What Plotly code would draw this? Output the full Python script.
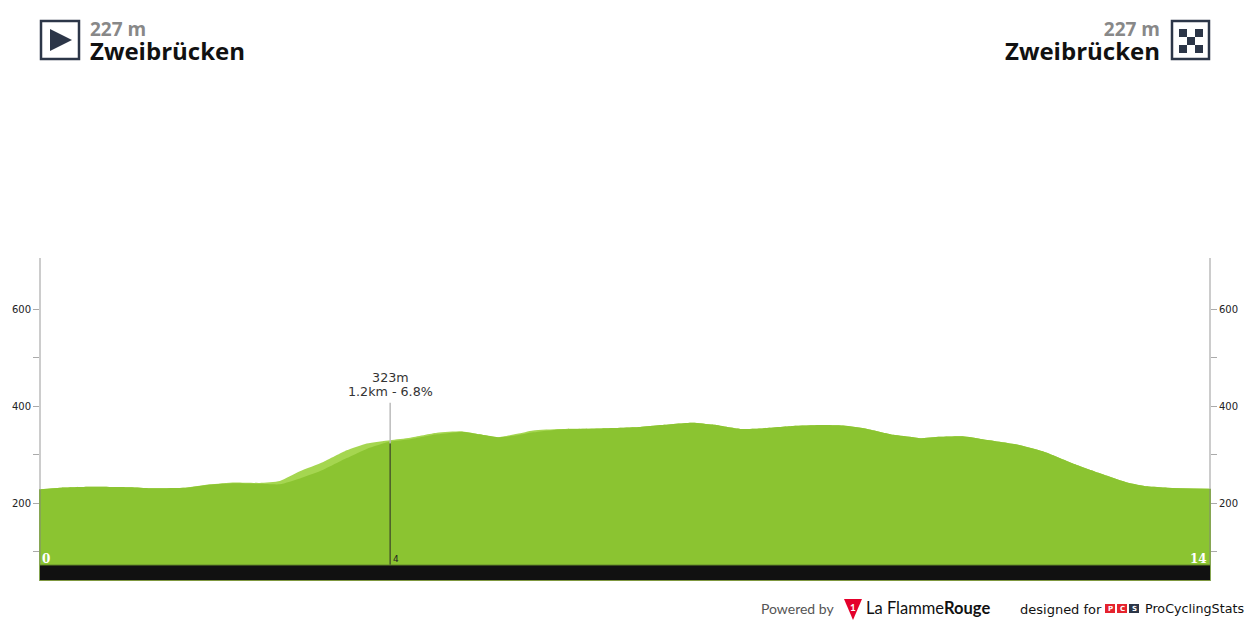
import plotly.graph_objects as go

W, H = 1250, 625

# Stage profile: km and metres
km = [0, 0.24, 0.6, 1.08, 1.32, 1.74, 2.03, 2.33, 2.63, 2.87, 3.11, 3.39, 3.67, 3.91, 4.19,
      4.43, 4.75, 5.06, 5.26, 5.48, 5.71, 5.9, 6.22, 6.7, 7.18, 7.42, 7.81, 8.05, 8.38, 8.62,
      9.01, 9.33, 9.61, 9.9, 10.21, 10.45, 10.53, 10.77, 11.04, 11.28, 11.69, 12.0, 12.36,
      12.68, 13.01, 13.25, 13.49, 14]
elev_light = [229, 232, 234, 233, 231, 232, 239, 243, 242, 246, 266, 285, 309, 323, 330,
              335, 345, 348, 342, 336, 343, 350, 353, 354, 357, 361, 366, 362, 353, 354,
              359, 361, 360, 353, 341, 336, 334, 337, 338, 332, 321, 307, 282,
              262, 243, 235, 232, 230]
elev_main = [229, 232, 234, 233, 231, 232, 238, 241, 240, 239, 251, 269, 293, 312, 327,
             332, 342, 347, 342, 336, 340, 346, 352, 354, 357, 361, 366, 362, 353, 354,
             359, 361, 360, 353, 341, 336, 334, 337, 338, 332, 321, 307, 282,
             262, 243, 235, 232, 230]

climb_km = 4.19
climb_top = 323
climb_label_top = 407
climb_height = "323m"
climb_detail = "1.2km - 6.8%"

y_ticks = [100, 200, 300, 400, 500, 600]
y_tick_text = ["", "200", "", "400", "", "600"]
y_range = [40, 705]
road_top = 73

start_name = "Zweibrücken"
finish_name = "Zweibrücken"
start_alt = "227 m"
finish_alt = "227 m"

NAVY = "#2c3648"
LIGHT_GREEN = "#a5d650"
GREEN = "#8bc431"
EDGE = "#86a652"


def px(x):
    return x / W


def py(y):
    return 1 - y / H


def label(x, y, text, size, color, family, anchor="left", bold=False):
    if bold:
        text = f"<b>{text}</b>"
    fig.add_annotation(x=px(x), y=py(y), xref="paper", yref="paper", text=text, showarrow=False,
                       xanchor=anchor, yanchor="middle", align=anchor, borderpad=0,
                       font=dict(size=size, color=color, family=family))


def box(x0, y0, x1, y1, fill="rgba(0,0,0,0)", line=None, width=0):
    fig.add_shape(type="rect", xref="paper", yref="paper", x0=px(x0), x1=px(x1), y0=py(y0), y1=py(y1),
                  fillcolor=fill, line=dict(color=line, width=width) if line else dict(width=0))


def poly(points, fill):
    path = "M " + " L ".join(f"{px(a)},{py(b)}" for a, b in points) + " Z"
    fig.add_shape(type="path", xref="paper", yref="paper", path=path, fillcolor=fill, line=dict(width=0))


def header(x, anchor, alt, name):
    # both lines in one text so the line spacing stays tight
    text = (f"<b><span style='color:#888888;font-size:19px'>{alt}</span><br>"
            f"<span style='font-size:24px'>{name}</span></b>")
    label(x, 41.5, text, 18.5, "#111111", "Open Sans", anchor=anchor)


def side_axis(x, top):
    # x in paper so the line is not clipped by the plot area
    fig.add_shape(type="line", xref="paper", yref="y", x0=px(x), x1=px(x), y0=y_range[0], y1=y_range[1],
                  line=dict(color="#cccccc", width=2), layer="above")
    fig.add_shape(type="line", xref="paper", yref="y", x0=px(x), x1=px(x), y0=y_range[0], y1=top,
                  line=dict(color=EDGE, width=2), layer="above")


fig = go.Figure()

fig.add_trace(go.Scatter(x=km, y=elev_light, mode="lines", fill="tozeroy", fillcolor=LIGHT_GREEN,
                         line=dict(width=0, color=LIGHT_GREEN, shape="spline", smoothing=0.5),
                         hoverinfo="skip"))
fig.add_trace(go.Scatter(x=km, y=elev_main, mode="lines", fill="tozeroy", fillcolor=GREEN,
                         line=dict(width=0, color=GREEN, shape="spline", smoothing=0.5),
                         hoverinfo="skip"))

# Climb marker
fig.add_trace(go.Scatter(x=[climb_km, climb_km], y=[climb_top, climb_label_top], mode="lines",
                         line=dict(color="#bbbbbb", width=1.5), hoverinfo="skip"))
fig.add_trace(go.Scatter(x=[climb_km, climb_km], y=[y_range[0], climb_top], mode="lines",
                         line=dict(color="#4a5a2a", width=1.5), hoverinfo="skip"))
# Right axis needs a trace to show up
fig.add_trace(go.Scatter(x=[0], y=[y_range[0]], mode="none", yaxis="y2", hoverinfo="skip"))

side_axis(40, elev_main[0])
side_axis(1210, elev_main[-1])

# Black road strip along the bottom
fig.add_shape(type="rect", xref="x", yref="y", x0=0, x1=14, y0=y_range[0], y1=road_top,
              fillcolor="#111111", line=dict(width=0), layer="above")
fig.add_shape(type="line", xref="x", yref="y", x0=0, x1=14, y0=road_top, y1=road_top,
              line=dict(color="#668f2a", width=1), layer="above")
fig.add_shape(type="line", xref="x", yref="y", x0=0, x1=14, y0=y_range[0], y1=y_range[0],
              line=dict(color="#a5c450", width=1.5), layer="above")

fig.update_layout(
    width=W, height=H,
    margin=dict(l=0, r=0, t=0, b=0),
    paper_bgcolor="white", plot_bgcolor="white",
    showlegend=False,
    font=dict(family="DejaVu Sans", color="#222222"),
    xaxis=dict(domain=[px(40), px(1210)], range=[0, 14], showgrid=False, zeroline=False,
               showticklabels=False, ticks=""),
    yaxis=dict(domain=[py(581), py(258)], range=y_range, tickvals=y_ticks, ticktext=y_tick_text,
               showgrid=False, zeroline=False, showline=False,
               ticks="outside", ticklen=6, tickcolor="#aaaaaa", tickwidth=1,
               tickfont=dict(size=10, color="#222222", family="DejaVu Sans")),
    yaxis2=dict(domain=[py(581), py(258)], range=y_range, overlaying="y", side="right", anchor="x",
                tickvals=y_ticks, ticktext=y_tick_text,
                showgrid=False, zeroline=False, showline=False,
                ticks="outside", ticklen=6, tickcolor="#aaaaaa", tickwidth=1,
                tickfont=dict(size=10, color="#222222", family="DejaVu Sans")),
)

# Climb label and km labels inside the profile
fig.add_annotation(x=climb_km, y=climb_label_top, xref="x", yref="y",
                   text=f"<span style='font-size:12.7px'>{climb_height}<br>{climb_detail}</span>",
                   showarrow=False, yanchor="bottom", yshift=2,
                   font=dict(size=10.8, color="#333333", family="DejaVu Sans"))
label(392, 559, "4", 9, "#222222", "DejaVu Sans")
label(41, 559, "0", 12, "white", "DejaVu Serif", bold=True)
label(1208, 559, "14", 12, "white", "DejaVu Serif", anchor="right", bold=True)

# Start header
box(41, 21, 79, 59, fill="white", line=NAVY, width=2.5)
poly([(50, 29), (72, 40), (50, 51)], NAVY)
header(89, "left", start_alt, start_name)

# Finish header
box(1172, 21, 1209, 59, fill="white", line=NAVY, width=2.5)
for col in range(3):
    for row in range(3):
        if (col + row) % 2 == 0:
            box(1179 + col * 8, 29 + row * 8, 1187 + col * 8, 37 + row * 8, fill=NAVY)
header(1161, "right", finish_alt, finish_name)

# Footer logos
label(760, 608, "Powered by", 14, "#555555", "Lato")
poly([(844, 599), (862, 599), (853, 620)], "#e4002b")
label(853, 607, "1", 10, "white", "Lato", anchor="center", bold=True)
label(865, 608, "La Flamme<b>Rouge</b>", 16.5, "#111111", "Lato")
label(1019, 609, "designed for", 13, "#111111", "DejaVu Sans")
box(1105, 604, 1115, 613, fill="#e5232e")
box(1117, 604, 1127, 613, fill="#e5232e")
box(1129, 604, 1139, 613, fill=NAVY)
label(1110, 608.5, "P", 7, "white", "DejaVu Sans", anchor="center", bold=True)
label(1122, 608.5, "C", 7, "white", "DejaVu Sans", anchor="center", bold=True)
label(1134, 608.5, "S", 7, "white", "DejaVu Sans", anchor="center", bold=True)
label(1144, 608, "ProCyclingStats", 12.7, "#111111", "DejaVu Sans")

fig.write_html("out.html", config={"displayModeBar": False},
               post_script="document.body.style.margin='0';")
